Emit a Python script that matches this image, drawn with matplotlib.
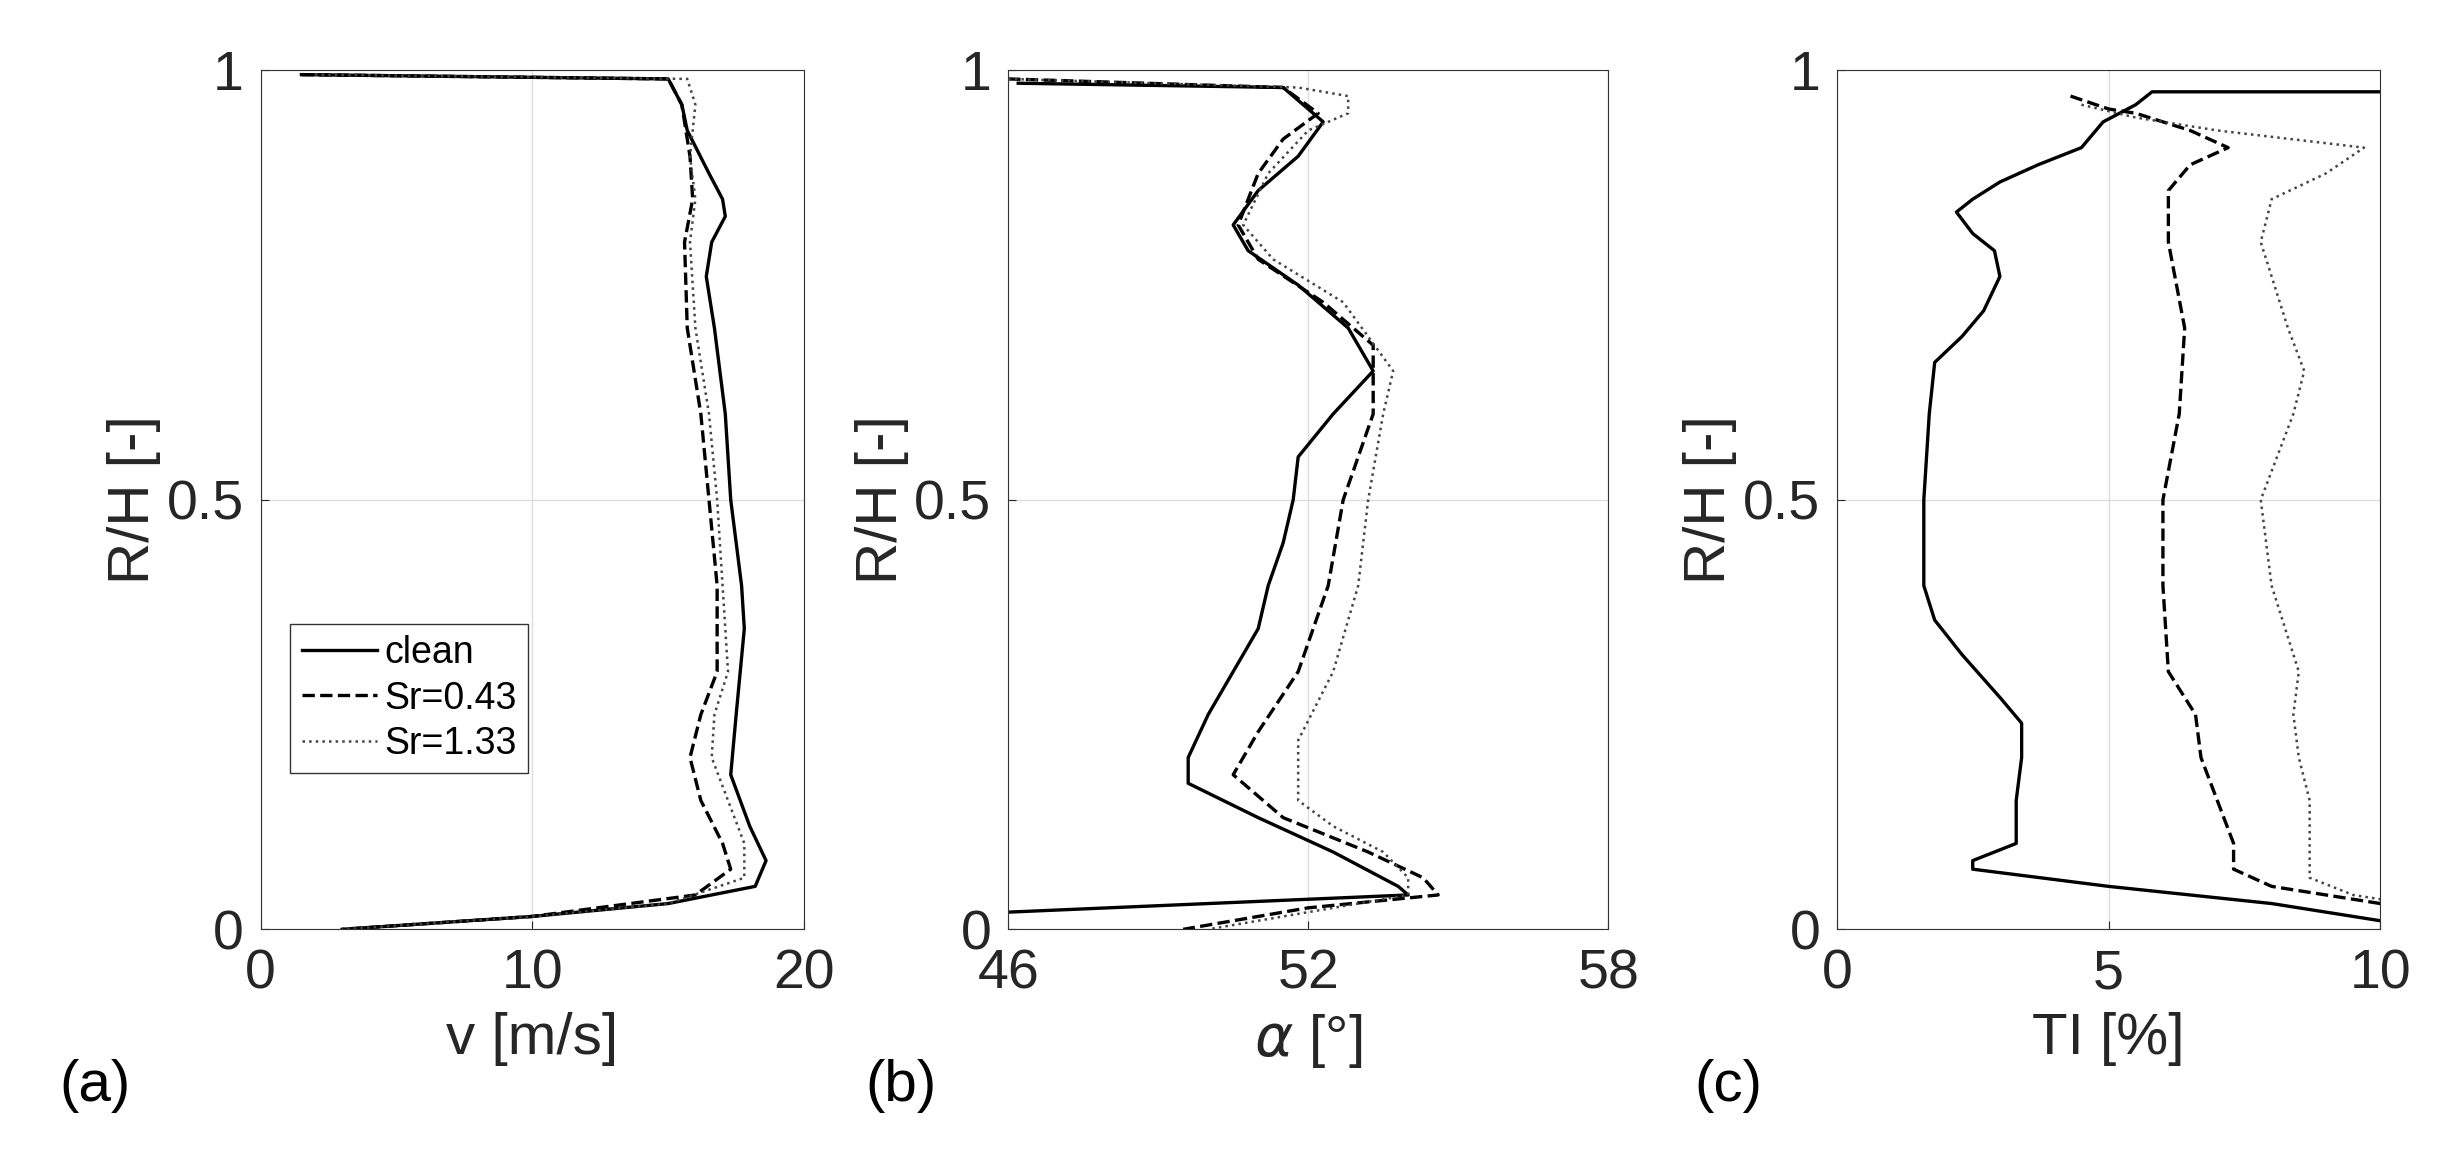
import matplotlib.pyplot as plt

plt.rcParams['font.family'] = ['Liberation Sans', 'DejaVu Sans']
plt.rcParams['mathtext.fontset'] = 'dejavusans'

# panel (a): velocity v [m/s] vs R/H
v_clean_x = [1.5, 15, 15.5, 15.7, 16.5, 17, 17.1, 16.6, 16.4, 16.7, 17.1, 17.3, 17.7, 17.8, 17.5, 17.3, 18, 18.6, 18.2, 15, 10, 3]
v_clean_y = [0.995, 0.99, 0.96, 0.93, 0.88, 0.85, 0.83, 0.80, 0.76, 0.70, 0.6, 0.5, 0.4, 0.35, 0.25, 0.18, 0.12, 0.08, 0.05, 0.03, 0.015, 0.0]
v_s043_x = [1.5, 15, 15.5, 15.8, 15.9, 15.6, 15.7, 16.2, 16.5, 16.8, 16.8, 16.2, 15.8, 16.2, 17, 17.3, 16, 10, 3]
v_s043_y = [0.995, 0.99, 0.96, 0.9, 0.85, 0.8, 0.7, 0.6, 0.5, 0.4, 0.3, 0.25, 0.2, 0.15, 0.1, 0.07, 0.04, 0.015, 0.0]
v_s133_x = [2, 15.7, 16, 15.8, 16, 15.8, 16, 16.5, 16.8, 17, 17.2, 16.7, 16.6, 17.2, 17.8, 17.8, 15, 10, 3]
v_s133_y = [0.995, 0.99, 0.96, 0.9, 0.85, 0.8, 0.7, 0.6, 0.5, 0.4, 0.3, 0.25, 0.2, 0.15, 0.1, 0.06, 0.03, 0.015, 0.0]

# panel (b): flow angle alpha [deg]
a_clean_x = [46.2, 51.5, 52.3, 51.8, 51.0, 50.5, 50.8, 51.8, 52.8, 53.3, 52.5, 51.8, 51.7, 51.5, 51.2, 51, 50.5, 50.0, 49.6, 49.6, 51, 52.5, 53.8, 54, 46]
a_clean_y = [0.985, 0.98, 0.94, 0.90, 0.86, 0.82, 0.79, 0.75, 0.70, 0.65, 0.6, 0.55, 0.5, 0.45, 0.40, 0.35, 0.3, 0.25, 0.2, 0.17, 0.13, 0.09, 0.05, 0.04, 0.02]
a_s043_x = [46, 51.5, 52.2, 51.5, 51.0, 50.6, 51, 52.3, 53.3, 53.3, 52.7, 52.4, 51.8, 51, 50.5, 51.5, 53.2, 54.3, 54.6, 52, 49.5]
a_s043_y = [0.99, 0.98, 0.95, 0.92, 0.88, 0.82, 0.78, 0.73, 0.68, 0.6, 0.5, 0.4, 0.3, 0.23, 0.18, 0.13, 0.09, 0.06, 0.04, 0.025, 0.0]
a_s133_x = [46, 51.8, 52.8, 52.8, 52, 51.2, 50.7, 51.3, 52.7, 53.7, 53.5, 53.2, 53, 52.5, 51.8, 51.8, 52.5, 53.5, 54, 54, 52, 50]
a_s133_y = [0.99, 0.98, 0.97, 0.95, 0.93, 0.88, 0.82, 0.78, 0.73, 0.65, 0.6, 0.5, 0.4, 0.3, 0.22, 0.15, 0.12, 0.09, 0.06, 0.04, 0.02, 0.0]

# panel (c): turbulence intensity TI [%]
t_clean_x = [10, 5.8, 5.5, 4.9, 4.5, 3.7, 3, 2.5, 2.2, 2.5, 2.9, 3.0, 2.7, 2.3, 1.8, 1.7, 1.6, 1.6, 1.8, 2.3, 3.0, 3.4, 3.4, 3.3, 3.3, 2.5, 2.5, 5, 8, 10]
t_clean_y = [0.975, 0.975, 0.96, 0.94, 0.91, 0.89, 0.87, 0.85, 0.835, 0.81, 0.79, 0.76, 0.72, 0.69, 0.66, 0.6, 0.5, 0.4, 0.36, 0.32, 0.27, 0.24, 0.2, 0.15, 0.1, 0.08, 0.07, 0.05, 0.03, 0.01]
t_s043_x = [4.3, 5, 5.5, 6.5, 7.2, 6.5, 6.1, 6.1, 6.4, 6.3, 6, 6, 6.1, 6.6, 6.7, 7.0, 7.3, 7.3, 8, 9, 10]
t_s043_y = [0.97, 0.955, 0.95, 0.93, 0.91, 0.89, 0.86, 0.8, 0.7, 0.6, 0.5, 0.4, 0.3, 0.25, 0.2, 0.15, 0.1, 0.07, 0.05, 0.04, 0.03]
t_s133_x = [4.5, 5.5, 7, 9.7, 9, 8, 7.8, 8.3, 8.6, 8.4, 7.8, 8, 8.5, 8.4, 8.5, 8.7, 8.7, 8.7, 9.5, 10]
t_s133_y = [0.96, 0.945, 0.93, 0.91, 0.88, 0.85, 0.8, 0.7, 0.65, 0.6, 0.5, 0.4, 0.3, 0.25, 0.2, 0.15, 0.1, 0.06, 0.04, 0.035]

labels = ['clean', 'Sr=0.43', 'Sr=1.33']
txt = '#262626'

fig = plt.figure(figsize=(24.59, 11.53), dpi=100)
boxes = [[0.106, 0.194, 0.221, 0.745], [0.41, 0.194, 0.244, 0.745], [0.747, 0.194, 0.221, 0.745]]
panels = [
    (v_clean_x, v_clean_y, v_s043_x, v_s043_y, v_s133_x, v_s133_y, (0, 20), [0, 10, 20], 'v [m/s]', '(a)'),
    (a_clean_x, a_clean_y, a_s043_x, a_s043_y, a_s133_x, a_s133_y, (46, 58), [46, 52, 58], r'$\alpha$ [°]', '(b)'),
    (t_clean_x, t_clean_y, t_s043_x, t_s043_y, t_s133_x, t_s133_y, (0, 10), [0, 5, 10], 'TI [%]', '(c)'),
]
tags_x = [0.024, 0.352, 0.689]

for i, (cx, cy, dx, dy, sx, sy, xl, xt, xlab, tag) in enumerate(panels):
    ax = fig.add_axes(boxes[i])
    ax.plot(cx, cy, color='black', lw=2.4, ls='-', label=labels[0])
    ax.plot(dx, dy, color='black', lw=2.4, ls='--', label=labels[1])
    ax.plot(sx, sy, color='#444444', lw=1.8, ls=':', label=labels[2])
    ax.set_xlim(*xl)
    ax.set_ylim(0, 1)
    ax.set_xticks(xt)
    ax.set_yticks([0, 0.5, 1])
    ax.set_yticklabels(['0', '0.5', '1'])
    ax.grid(True, color='#dddddd', lw=1)
    ax.tick_params(labelsize=40, colors=txt, direction='in', length=6)
    ax.tick_params(axis='x', pad=14)
    ax.tick_params(axis='y', pad=12)
    for s in ax.spines.values():
        s.set_color('#333333')
    ax.set_xlabel(xlab, fontsize=42, color=txt, labelpad=8)
    ax.set_ylabel('R/H [-]', fontsize=42, color=txt, labelpad=4)
    fig.text(tags_x[i], 0.045, tag, fontsize=42, color='black')
    if i == 0:
        ax.legend(loc='lower left', bbox_to_anchor=(0.02, 0.16), fontsize=27,
                  frameon=True, fancybox=False, edgecolor='black', handlelength=2.0,
                  borderpad=0.3, labelspacing=0.25, handletextpad=0.2)

fig.savefig('out.png', dpi=100)
